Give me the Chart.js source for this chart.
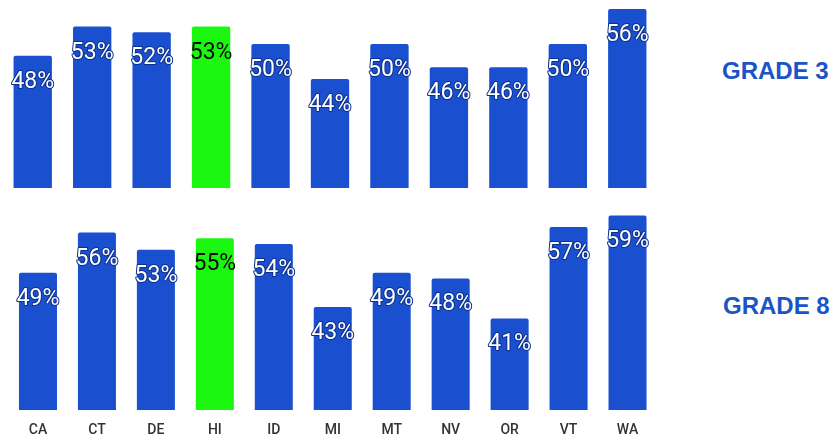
<!DOCTYPE html>
<html>
<head>
<meta charset="utf-8">
<script src="https://cdn.jsdelivr.net/npm/chart.js@4/dist/chart.umd.min.js"></script>
<style>
  html, body { margin: 0; padding: 0; background: #ffffff; }
  body { width: 832px; height: 436px; position: relative; overflow: hidden; }
  canvas { position: absolute; }
  #c3 { left: 0; top: 0; }
  #c8 { left: 0; top: 200px; }
  .grade { position: absolute; font-family: "Liberation Sans", Arial, sans-serif; font-weight: bold;
           font-size: 24px; line-height: 24px; color: #1a55c8; white-space: nowrap; }
</style>
</head>
<body>
<canvas id="c3" width="660" height="190"></canvas>
<canvas id="c8" width="660" height="253"></canvas>
<div class="grade" style="left:722px; top:59px;">GRADE 3</div>
<div class="grade" style="left:723px; top:294px;">GRADE 8</div>
<script>
const categories = ['CA','CT','DE','HI','ID','MI','MT','NV','OR','VT','WA'];
const grade3 = [48, 53, 52, 53, 50, 44, 50, 46, 46, 50, 56];
const grade8 = [49, 56, 53, 55, 54, 43, 49, 48, 41, 57, 59];
const highlight = 'HI';

const BLUE = '#1a50d0';
const GREEN = '#1cf712';

const labelPlugin = {
  id: 'barLabels',
  afterDatasetsDraw(chart) {
    const ctx = chart.ctx;
    const meta = chart.getDatasetMeta(0);
    const values = chart.data.datasets[0].data;
    ctx.save();
    ctx.font = '400 23px Roboto, "Noto Sans", sans-serif';
    ctx.textAlign = 'center';
    ctx.textBaseline = 'alphabetic';
    ctx.lineJoin = 'round';
    meta.data.forEach((bar, i) => {
      const txt = values[i] + '%';
      const y = bar.y + 32;
      if (chart.data.labels[i] === highlight) {
        ctx.fillStyle = '#0a0a0a';
        ctx.fillText(txt, bar.x, y);
      } else {
        ctx.lineWidth = 2;
        ctx.strokeStyle = '#0b2f8a';
        ctx.strokeText(txt, bar.x, y);
        ctx.fillStyle = '#ffffff';
        ctx.fillText(txt, bar.x, y);
      }
    });
    ctx.restore();
  }
};

function makeChart(id, values, yMin, yMax, showX, padding) {
  return new Chart(document.getElementById(id), {
    type: 'bar',
    data: {
      labels: categories,
      datasets: [{
        data: values,
        backgroundColor: categories.map(c => c === highlight ? GREEN : BLUE),
        borderRadius: 2,
        borderSkipped: 'bottom',
        categoryPercentage: 1,
        barPercentage: 0.645
      }]
    },
    options: {
      responsive: false,
      animation: false,
      layout: { padding: padding },
      plugins: { legend: { display: false }, tooltip: { enabled: false }, title: { display: false } },
      scales: {
        x: {
          display: showX,
          grid: { display: false, drawTicks: false },
          border: { display: false },
          ticks: { color: '#333333', padding: 12, font: { family: 'Roboto', size: 14, weight: '500' } }
        },
        y: { display: false, min: yMin, max: yMax }
      }
    },
    plugins: [labelPlugin]
  });
}

makeChart('c3', grade3, 25.3, 57.55, false, { left: 3, right: 3, top: 0, bottom: 2 });
makeChart('c8', grade8, 25, 61.7, true, { left: 8.5, right: 3, top: 0, bottom: 2.2 });
</script>
</body>
</html>
